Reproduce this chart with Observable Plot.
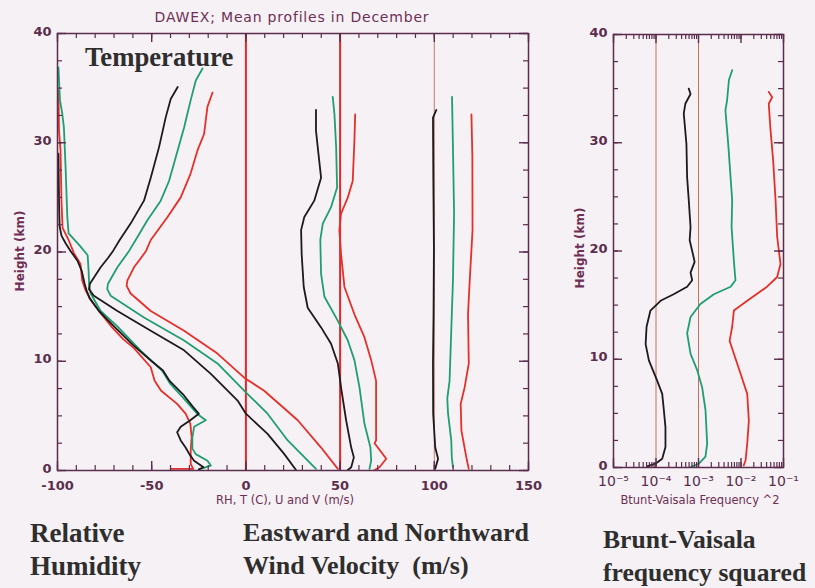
<!DOCTYPE html>
<html>
<head>
<meta charset="utf-8">
<script src="https://cdn.jsdelivr.net/npm/d3@7"></script>
<script src="https://cdn.jsdelivr.net/npm/@observablehq/plot@0.6"></script>
<style>
  html, body { margin: 0; padding: 0; background: #f6f1f4; }
  #wrap { position: relative; width: 815px; height: 588px; overflow: hidden; background: #f6f1f4; }
  #wrap svg { position: absolute; top: 0; }
  .t { position: absolute; white-space: nowrap; line-height: 1; }
  .hershey { font-family: "DejaVu Sans", sans-serif; color: #6e2f55; }
  .serif { font-family: "Liberation Serif", "Times New Roman", serif; font-weight: bold; color: #2e2e2e; }
  .rot { transform: translate(-50%, -50%) rotate(-90deg); }
  .ctr { transform: translate(-50%, -50%); }
</style>
</head>
<body>
<div id="wrap">
  <div class="t hershey ctr" style="left:292px; top:17px; font-size:14px; letter-spacing:0.8px;">DAWEX; Mean profiles in December</div>
  <div class="t hershey rot" style="left:20px; top:251px; font-size:12px; font-weight:bold;">Height (km)</div>
  <div class="t hershey rot" style="left:580px; top:248px; font-size:12px; font-weight:bold;">Height (km)</div>
  <div class="t hershey ctr" style="left:285px; top:501px; font-size:11.5px;">RH, T (C), U and V (m/s)</div>
  <div class="t hershey ctr" style="left:700px; top:501px; font-size:11.5px;">Btunt-Vaisala Frequency ^2</div>
  <div class="t serif" style="left:85px; top:44px; font-size:26.7px;">Temperature</div>
  <div class="t serif" style="left:30px; top:520px; font-size:27px;">Relative</div>
  <div class="t serif" style="left:30px; top:553px; font-size:27px;">Humidity</div>
  <div class="t serif" style="left:243px; top:520px; font-size:26px;">Eastward and Northward</div>
  <div class="t serif" style="left:243px; top:553px; font-size:26px;">Wind Velocity&nbsp; (m/s)</div>
  <div class="t serif" style="left:603px; top:527px; font-size:25.6px;">Brunt-Vaisala</div>
  <div class="t serif" style="left:603px; top:560px; font-size:25.6px;">frequency squared</div>
</div>
<script>
// ---- data: [height km, value] ----
const rhBlack = [[29.0,-99.5],[24.7,-99.2],[22.4,-98.9],[21.5,-97.9],[20.8,-95.7],[20.1,-93.1],[19.2,-89.4],[18.3,-87.2],[17.1,-85.6],[16.5,-84.6],[15.8,-83],[14.6,-78],[13.2,-70],[11.5,-60],[10.0,-50],[9.15,-44],[8.2,-40.5],[7.0,-33.5],[5.8,-28],[5.2,-25],[4.6,-29.5],[4.0,-34.6],[3.5,-36.5],[2.75,-34.6],[2.1,-32],[1.5,-30],[0.9,-27.5],[0.3,-22.5],[0.1,-25]];
const rhGreen = [[36.9,-99.5],[33.9,-98.7],[32.7,-97.5],[31.4,-96.6],[27.7,-95.7],[23.2,-94.8],[21.7,-94.1],[20.6,-88.3],[19.7,-84.0],[18.3,-83.5],[17.0,-83.2],[16.2,-82.4],[14.6,-77.1],[13.2,-68.2],[11.0,-56.0],[9.15,-44.5],[7.9,-40],[6.7,-33.5],[5.2,-25.9],[4.6,-21.3],[4.0,-27.5],[3.0,-28.4],[2.0,-28.4],[1.5,-26.6],[0.9,-20.4],[0.45,-18.6],[0.15,-23.9]];
const rhRed = [[34.8,-99.5],[31.1,-99.2],[29.3,-98.4],[24.7,-97.9],[22.2,-97.3],[21.1,-94.1],[19.9,-91.3],[18.9,-87.8],[17.4,-86.9],[16.5,-85.1],[15.6,-82.4],[14.4,-77.1],[13.1,-71],[12.0,-65],[11.2,-59.4],[9.45,-50.5],[8.24,-48.5],[7.3,-45],[6.1,-36.5],[5.2,-32],[4.3,-29.5],[3.05,-28.8],[1.83,-29.3],[0.6,-29.3],[0.15,-28],[0.15,-40]];

const tempBlack = [[35.1,-36.2],[34.0,-39.9],[32.3,-42.6],[29.6,-46.1],[26.8,-50.5],[24.7,-54.1],[22.6,-61.2],[21.1,-67],[20.1,-70.5],[19.5,-73],[18.6,-77.1],[17.1,-82.8],[16.6,-83.3],[16.0,-80.7],[14.6,-68.2],[12.8,-50.5],[11.0,-32.8],[8.85,-18.6],[6.4,-4.4],[5.2,0],[3.35,11.5],[1.5,20.4],[0.05,26.6]];
const tempGreen = [[36.8,-23.0],[35.7,-26.6],[33.9,-29.3],[31.4,-32.8],[28.7,-37.2],[26.5,-40.8],[24.7,-45.2],[22.9,-52.3],[21.1,-58.5],[20.1,-62],[18.6,-68.2],[17.1,-73.2],[16.6,-73.6],[16.0,-71.8],[14.0,-54.1],[11.9,-32.8],[9.8,-15.1],[7.0,0.9],[5.2,11.5],[2.75,22.2],[0.15,37.2]];
const tempRed = [[34.6,-17.7],[33.3,-20.4],[30.8,-22.2],[29.3,-25.7],[27.2,-29.3],[25.0,-34.6],[23.2,-41.6],[21.1,-50.5],[20.1,-53],[19.5,-55.5],[18.6,-59.4],[17.4,-62.9],[16.9,-63.3],[16.2,-61.2],[14.6,-50.5],[12.8,-32.8],[10.7,-15.1],[8.5,-0.9],[7.3,9.7],[4.6,27.5],[2.1,39.9],[0.15,48.8]];

const uBlack = [[33.0,37.2],[31.1,37.2],[29.0,38.5],[26.8,39.9],[24.7,36.3],[23.2,31.0],[22.0,29.3],[19.8,29.6],[16.8,30.7],[14.9,32.8],[13.1,39.9],[11.6,45.2],[9.8,48.8],[7.6,50.5],[4.6,53.2],[2.1,55.9],[1.2,57.3],[0.3,55.9],[0.05,54.1]];
const uGreen = [[34.2,46.1],[32.6,47.0],[29.6,47.9],[25.9,48.4],[24.1,45.2],[22.6,40.8],[21.1,39.5],[18.0,39.9],[15.9,41.7],[13.7,48.8],[11.9,54.1],[10.1,57.6],[7.6,60.3],[4.3,62.9],[2.1,66.1],[0.9,66.5],[0.15,65.6]];
const uRed = [[32.6,58.0],[30.2,57.6],[26.5,56.7],[25.0,54.1],[23.5,50.5],[22.0,49.6],[19.8,50.5],[16.8,52.3],[14.3,57.6],[12.2,62.9],[10.1,66.5],[8.2,69.1],[2.75,69.1],[2.5,68.3],[1.07,74.5],[0.3,70.9],[0.05,68.3]];

const vBlack = [[33.0,101.1],[32.3,99.3],[26.5,99.5],[20.4,99.8],[14.3,99.6],[9.8,99.3],[5.2,99.4],[2.1,100.5],[1.07,102.0],[0.15,100.5]];
const vGreen = [[34.2,109.4],[29.6,109.9],[23.5,110.5],[17.4,109.9],[12.8,109.0],[8.2,108.1],[6.6,106.9],[5.2,107.3],[2.75,109.0],[1.2,109.3],[0.3,109.9]];
const vRed = [[32.6,119.7],[28.8,120.2],[22.0,120.3],[17.4,118.8],[14.3,117.9],[9.8,118.3],[7.6,116.1],[6.1,114.0],[3.66,114.4],[1.2,117.0],[0.15,118.3]];

const n2Black = [[35.0,5.9e-4],[34.5,6.5e-4],[33.6,4.9e-4],[32.7,4.5e-4],[29.9,5.2e-4],[26.8,5.4e-4],[24.7,5.9e-4],[22.2,6.5e-4],[21.0,6.2e-4],[19.4,7.7e-4],[19.0,8.1e-4],[18.0,6.5e-4],[17.3,7.1e-4],[16.7,5.4e-4],[16.0,2.6e-4],[15.4,1.28e-4],[14.5,7.4e-5],[13.0,6.0e-5],[11.4,5.7e-5],[9.9,6.8e-5],[8.0,1.07e-4],[6.8,1.40e-4],[5.3,1.53e-4],[3.7,1.67e-4],[1.9,1.67e-4],[0.8,1.40e-4],[0.35,9.7e-5],[0.1,6.2e-5]];
const n2Green = [[36.7,6.2e-3],[35.8,5.2e-3],[33.9,4.7e-3],[33.0,4.3e-3],[29.9,5.0e-3],[24.7,6.2e-3],[22.2,6.0e-3],[19.1,6.8e-3],[17.3,7.4e-3],[16.7,5.7e-3],[16.0,2.3e-3],[15.1,1.11e-3],[13.9,6.5e-4],[12.4,5.4e-4],[10.5,6.5e-4],[9.0,9.3e-4],[7.4,1.22e-3],[5.3,1.46e-3],[2.2,1.60e-3],[1.0,1.46e-3],[0.35,1.02e-3],[0.03,6.5e-4]];
const n2Red = [[34.7,4.5e-2],[34.2,5.4e-2],[33.6,4.5e-2],[31.4,4.9e-2],[28.4,5.7e-2],[24.7,6.5e-2],[21.3,7.1e-2],[18.8,8.5e-2],[17.6,7.1e-2],[16.7,4.1e-2],[15.4,1.40e-2],[14.5,6.8e-3],[13.0,6.2e-3],[11.7,5.4e-3],[10.5,6.8e-3],[8.7,9.7e-3],[6.8,1.40e-2],[4.3,1.53e-2],[2.2,1.40e-2],[0.65,1.28e-2],[0.2,1.16e-2]];

const xTicksLeft = [-100, -50, 0, 50, 100, 150];
const yTicks = [0, 10, 20, 30, 40];
const xTicksRight = [1e-5, 1e-4, 1e-3, 1e-2, 1e-1];
const xTickLabelsRight = ["10\u207B\u2075", "10\u207B\u2074", "10\u207B\u00B3", "10\u207B\u00B2", "10\u207B\u00B9"];

// ---- styles ----
const AX = "#5a2d4c";
const BLACK = "#1c1a1c", GREEN = "#1f9e72", RED = "#e5302a";
const LW = 1.8;

const wrap = document.getElementById("wrap");

// ---- left panel ----
const L = {w: 560, h: 500, ml: 57, mr: 32, mt: 33, mb: 30};
const Lpw = L.w - L.ml - L.mr, Lph = L.h - L.mt - L.mb;
const xMinorL = d3.range(-100, 151, 10);
const yMinor = d3.range(0, 40.1, 2.5);

function curve(data, color) {
  return Plot.line(data, {x: d => d[1], y: d => d[0], stroke: color, strokeWidth: LW, curve: "linear"});
}
function frameTicks(pw, ph, xs, xsMajor, ys, ysMajor) {
  const m = [];
  const minorLen = 5, majorLen = 9;
  m.push(Plot.tickX(xs, {x: d => d, insetTop: ph - minorLen, stroke: AX, strokeWidth: 1.2}));
  m.push(Plot.tickX(xs, {x: d => d, insetBottom: ph - minorLen, stroke: AX, strokeWidth: 1.2}));
  m.push(Plot.tickX(xsMajor, {x: d => d, insetTop: ph - majorLen, stroke: AX, strokeWidth: 1.4}));
  m.push(Plot.tickX(xsMajor, {x: d => d, insetBottom: ph - majorLen, stroke: AX, strokeWidth: 1.4}));
  m.push(Plot.tickY(ys, {y: d => d, insetRight: pw - minorLen, stroke: AX, strokeWidth: 1.2}));
  m.push(Plot.tickY(ys, {y: d => d, insetLeft: pw - minorLen, stroke: AX, strokeWidth: 1.2}));
  m.push(Plot.tickY(ysMajor, {y: d => d, insetRight: pw - majorLen, stroke: AX, strokeWidth: 1.4}));
  m.push(Plot.tickY(ysMajor, {y: d => d, insetLeft: pw - majorLen, stroke: AX, strokeWidth: 1.4}));
  return m;
}

const left = Plot.plot({
  width: L.w, height: L.h,
  marginLeft: L.ml, marginRight: L.mr, marginTop: L.mt, marginBottom: L.mb,
  x: {domain: [-100, 150]},
  y: {domain: [0, 40]},
  style: {background: "none", color: AX, fontFamily: "DejaVu Sans, sans-serif", fontSize: "13px", overflow: "visible"},
  marks: [
    Plot.ruleX([0, 50], {stroke: "#e3272b", strokeWidth: 2}),
    Plot.ruleX([100], {stroke: "#c97b6e", strokeWidth: 1}),
    curve(rhRed, RED), curve(rhGreen, GREEN), curve(rhBlack, BLACK),
    curve(tempRed, RED), curve(tempGreen, GREEN), curve(tempBlack, BLACK),
    curve(uRed, RED), curve(uGreen, GREEN), curve(uBlack, BLACK),
    curve(vRed, RED), curve(vGreen, GREEN), curve(vBlack, BLACK),
    Plot.frame({stroke: AX, strokeWidth: 1.5}),
    ...frameTicks(Lpw, Lph, xMinorL, xTicksLeft, yMinor, yTicks),
    Plot.axisX({ticks: xTicksLeft, tickSize: 0, tickPadding: 10, label: null, fontWeight: "bold", tickFormat: d => String(d)}),
    Plot.axisY({ticks: yTicks, tickSize: 0, tickPadding: 6, label: null, fontWeight: "bold", dy: -2})
  ]
});
left.style.left = "0px";
wrap.appendChild(left);

// ---- right panel ----
const R = {w: 255, h: 500, ml: 53, mr: 32, mt: 34, mb: 33};
const Rpw = R.w - R.ml - R.mr, Rph = R.h - R.mt - R.mb;
const xMinorR = d3.scaleLog().domain([1e-5, 1e-1]).ticks();

const right = Plot.plot({
  width: R.w, height: R.h,
  marginLeft: R.ml, marginRight: R.mr, marginTop: R.mt, marginBottom: R.mb,
  x: {type: "log", domain: [1e-5, 1e-1]},
  y: {domain: [0, 40]},
  style: {background: "none", color: AX, fontFamily: "DejaVu Sans, sans-serif", fontSize: "13px", overflow: "visible"},
  marks: [
    Plot.ruleX([1e-4, 1e-3], {stroke: "#c2705f", strokeWidth: 1}),
    curve(n2Red, RED), curve(n2Green, GREEN), curve(n2Black, BLACK),
    Plot.frame({stroke: AX, strokeWidth: 1.5}),
    ...frameTicks(Rpw, Rph, xMinorR, xTicksRight, yMinor, yTicks),
    Plot.axisX({ticks: xTicksRight, tickSize: 0, tickPadding: 9, label: null, fontSize: 14,
      tickFormat: d => xTickLabelsRight[xTicksRight.indexOf(d)]}),
    Plot.axisY({ticks: yTicks, tickSize: 0, tickPadding: 6, label: null, fontWeight: "bold", dy: -2})
  ]
});
right.style.left = "560px";
wrap.appendChild(right);
</script>
</body>
</html>
